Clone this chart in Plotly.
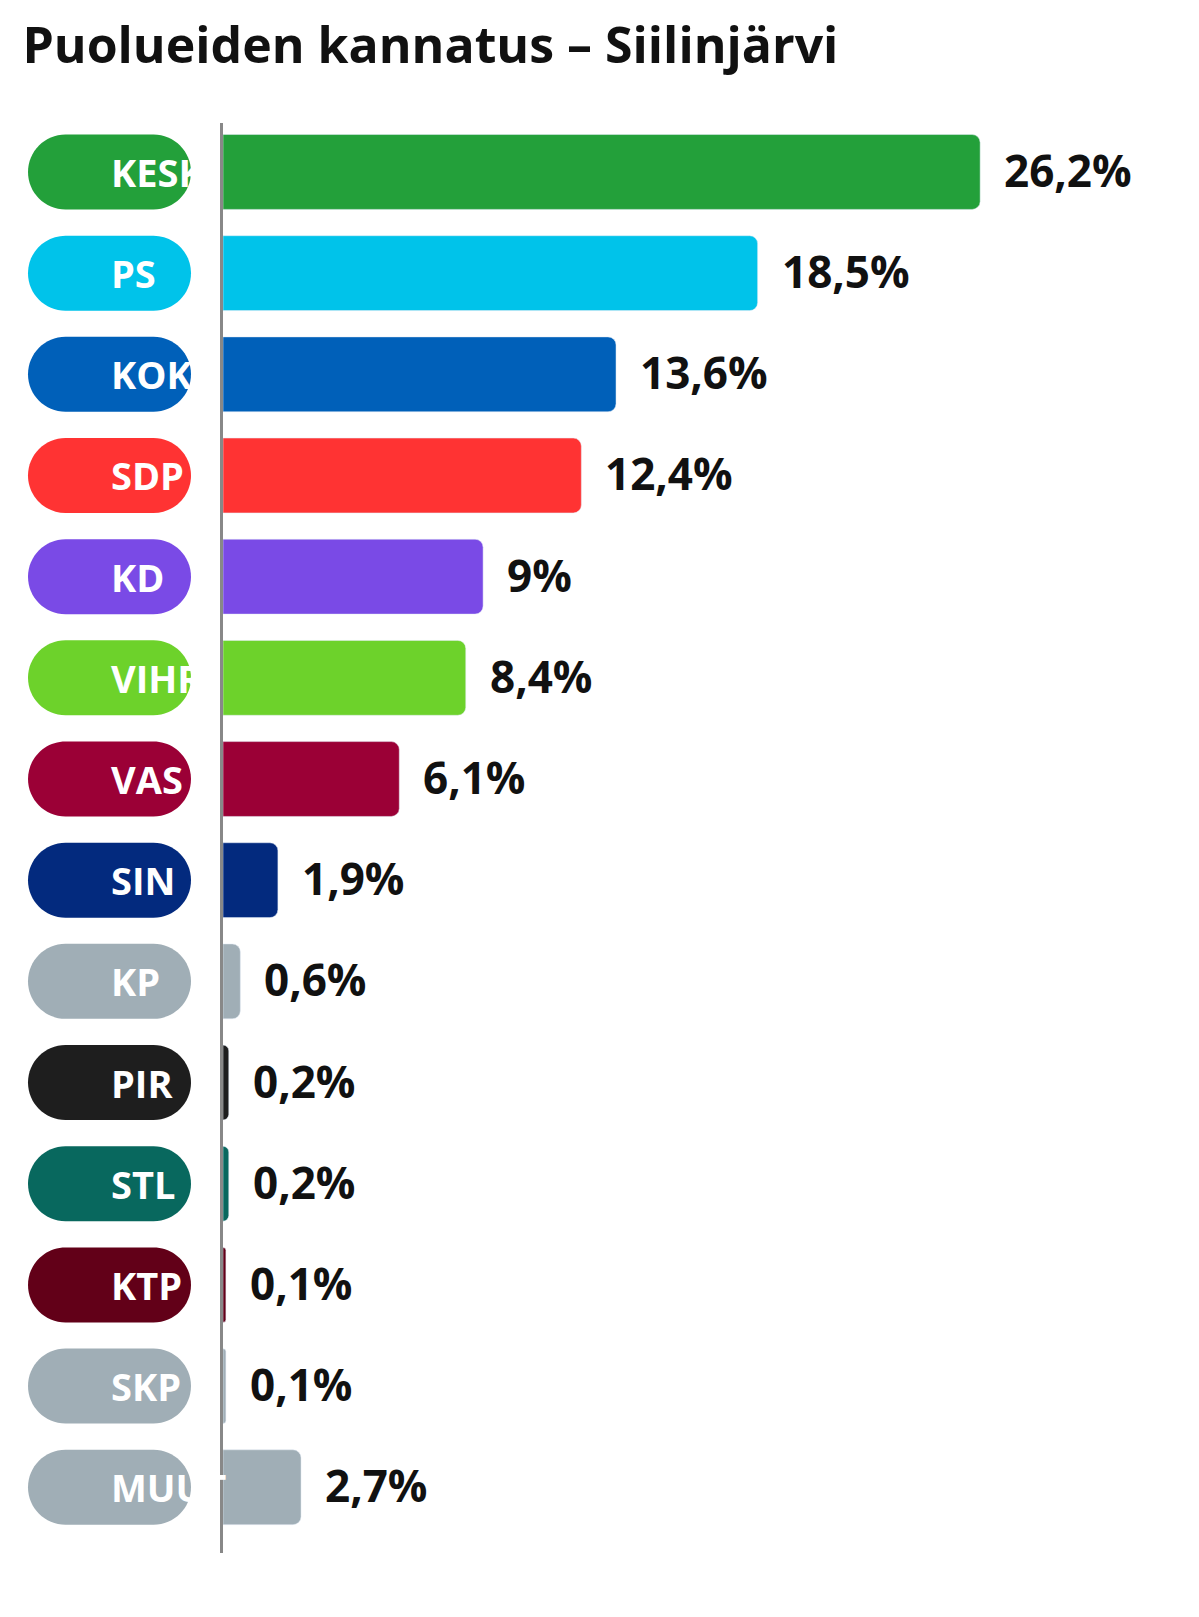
import plotly.graph_objects as go

parties = ["KESK", "PS", "KOK", "SDP", "KD", "VIHR", "VAS", "SIN", "KP", "PIR", "STL", "KTP", "SKP", "MUUT"]
support = [26.2, 18.5, 13.6, 12.4, 9, 8.4, 6.1, 1.9, 0.6, 0.2, 0.2, 0.1, 0.1, 2.7]
labels = ["26,2%", "18,5%", "13,6%", "12,4%", "9%", "8,4%", "6,1%", "1,9%", "0,6%", "0,2%", "0,2%", "0,1%", "0,1%", "2,7%"]
colors = ["#23a03a", "#00c3ea", "#0060b9", "#ff3333", "#7a4ae6", "#6dd22b", "#9b0036",
          "#032a7e", "#a0aeb6", "#1e1e1e", "#08685e", "#620018", "#a0aeb6", "#a0aeb6"]

FONT = "Open Sans"
rows = list(range(len(parties)))

fig = go.Figure(go.Bar(
    x=support, y=rows, orientation="h", marker=dict(color=colors, cornerradius=8),
    width=0.74, hoverinfo="skip",
))

# pill geometry: paper units in x (plot width 984 px), data units in y (101.15 px per row)
PW, RH = 984.0, 101.15
rx, ry = 37.5 / PW, 37.5 / RH
kx, ky = rx * 0.5523, ry * 0.5523
xl, xr = -195 / PW, -32 / PW

for i, (p, v, lab, c) in enumerate(zip(parties, support, labels, colors)):
    t, b = i - ry, i + ry
    path = (f"M {xl+rx},{t} L {xr-rx},{t} C {xr-rx+kx},{t} {xr},{i-ky} {xr},{i} "
            f"C {xr},{i+ky} {xr-rx+kx},{b} {xr-rx},{b} L {xl+rx},{b} "
            f"C {xl+rx-kx},{b} {xl},{i+ky} {xl},{i} C {xl},{i-ky} {xl+rx-kx},{t} {xl+rx},{t} Z")
    fig.add_shape(type="path", xref="paper", yref="y", path=path, fillcolor=c, line_width=0)
    fig.add_annotation(x=-114 / PW, y=i, xref="paper", yref="y", text=f"<b>{p}</b>", showarrow=False,
                       font=dict(family=FONT, size=38, color="white"))
    fig.add_annotation(x=v, y=i, xref="x", yref="y", text=f"<b>{lab}</b>", showarrow=False,
                       xanchor="left", xshift=22, yshift=2, font=dict(family=FONT, size=44, color="#111"))

fig.update_layout(
    width=1199, height=1617, plot_bgcolor="white", paper_bgcolor="white",
    margin=dict(l=215, r=0, t=115, b=72),
    showlegend=False,
    title=dict(text="<b>Puolueiden kannatus – Siilinjärvi</b>", x=0.012, xanchor="left",
               y=0.977, yanchor="middle", font=dict(family=FONT, size=50, color="#111")),
    xaxis=dict(range=[0, 34.05], visible=False),
    yaxis=dict(range=[13.65, -0.484], showticklabels=False, showgrid=False, zeroline=False,
               showline=True, linecolor="#888", linewidth=3),
)

fig.write_html("out.html")
